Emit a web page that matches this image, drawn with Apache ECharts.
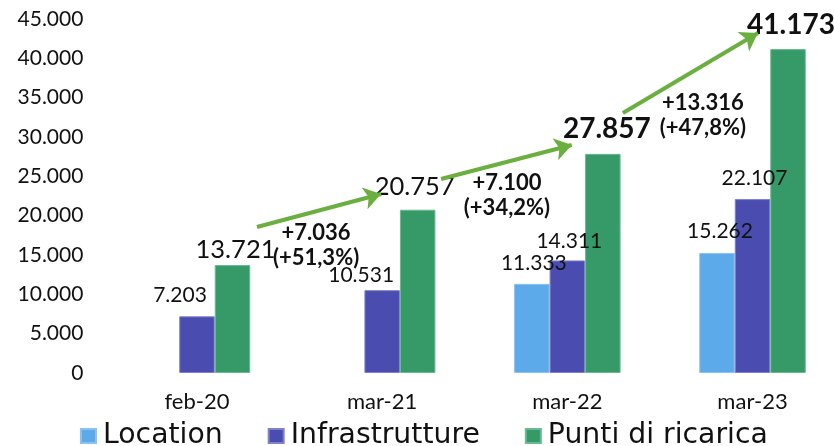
<!DOCTYPE html>
<html>
<head>
<meta charset="utf-8">
<script src="https://cdn.jsdelivr.net/npm/echarts@6/dist/echarts.min.js"></script>
<style>
html,body{margin:0;padding:0;background:#fff;}
#c{width:834px;height:446px;}
</style>
</head>
<body>
<div id="c"></div>
<script>
// ---- data ----
const categories = ['feb-20', 'mar-21', 'mar-22', 'mar-23'];
const seriesNames = ['Location', 'Infrastrutture', 'Punti di ricarica'];
const locationValues = [null, null, 11333, 15262];
const infraValues = [7203, 10531, 14311, 22107];
const puntiValues = [13721, 20757, 27857, 41173];
const yTicks = [0, 5000, 10000, 15000, 20000, 25000, 30000, 35000, 40000, 45000];
// growth annotations (text)
const growthTexts = [['+7.036', '(+51,3%)'], ['+7.100', '(+34,2%)'], ['+13.316', '(+47,8%)']];
// arrow annotations in data space [x (category units), y value]
const arrowFrom = [[0.824, 18560], [1.818, 24660], [2.800, 33050]];
const arrowTo = [[1.494, 22750], [2.524, 28980], [3.529, 43220]];
const growthAnchor = [[1.143, 16200], [2.174, 22580], [3.232, 32800]];

const fmt = v => String(v).replace(/\B(?=(\d{3})+(?!\d))/g, '.');

const FONT = 'Lato';
const colors = ['#5DAAEA', '#4A4CB0', '#359A68'];
const borders = ['#8cc2f0', '#7e80cc', '#6cb892'];

// per-bar label styles
const smallLbl = {fontSize: 21, fontWeight: 'normal'};
const bigLbl = {fontSize: 25.5, fontWeight: 'normal'};
const boldLbl = {fontSize: 28, fontWeight: 'bold'};
const locLabelStyle = [null, null, {...smallLbl, offset: [2, -5]}, {...smallLbl, offset: [3, -6]}];
const infraLabelStyle = [{...smallLbl, offset: [-17, -6]}, {...smallLbl, offset: [-21, 1]}, {...smallLbl, offset: [2, -4]}, {...smallLbl, offset: [2, -5]}];
const puntiLabelStyle = [{...bigLbl, offset: [3, 3]}, {...bigLbl, offset: [-3, -5]}, {...boldLbl, offset: [4, -6]}, {...boldLbl, offset: [3, -5]}];

function barData(vals, styles) {
  return vals.map((v, i) => v == null ? null : ({
    value: v,
    label: Object.assign({show: true, position: 'top', distance: 5, color: '#111', fontFamily: FONT,
      formatter: p => fmt(p.value)}, styles[i])
  }));
}

function barSeries(idx, vals, styles) {
  return {
    name: seriesNames[idx], type: 'bar', xAxisIndex: 0, yAxisIndex: 0,
    barWidth: 35.5, barGap: '0%', clip: false,
    itemStyle: {color: colors[idx], borderColor: borders[idx], borderWidth: 1},
    data: barData(vals, styles),
    emphasis: {disabled: true},
    z: 2
  };
}

const chart = echarts.init(document.getElementById('c'), null, {renderer: 'canvas'});
chart.setOption({
  animation: false,
  backgroundColor: '#fff',
  grid: {left: 104.4, width: 740.7, top: 19, bottom: 73, containLabel: false, outerBoundsMode: 'none'},
  legend: {
    data: seriesNames, top: 422, left: 80, padding: 0,
    itemWidth: 15, itemHeight: 14, itemGap: 45,
    icon: 'rect',
    textStyle: {fontFamily: 'DejaVu Sans', fontSize: 28.3, color: '#111', padding: [0, 0, 0, 2]},
  },
  xAxis: [{
    type: 'category', data: categories,
    axisLine: {show: false}, axisTick: {show: false},
    axisLabel: {fontFamily: FONT, fontSize: 22, color: '#111', margin: 18}
  }, {
    type: 'value', min: 0, max: 4, show: false
  }],
  yAxis: {
    type: 'value', min: yTicks[0], max: yTicks[yTicks.length - 1], interval: yTicks[1] - yTicks[0],
    axisLine: {show: false}, axisTick: {show: false}, splitLine: {show: false},
    axisLabel: {fontFamily: FONT, fontSize: 21, color: '#111', margin: 21, formatter: v => fmt(v)}
  },
  series: [
    barSeries(0, locationValues, locLabelStyle),
    barSeries(1, infraValues, infraLabelStyle),
    barSeries(2, puntiValues, puntiLabelStyle),
    {
      type: 'lines', coordinateSystem: 'cartesian2d', xAxisIndex: 1, yAxisIndex: 0,
      symbol: ['none', 'arrow'], symbolSize: [0, 17],
      lineStyle: {color: '#6AAF3F', width: 4, opacity: 1, curveness: 0},
      data: arrowFrom.map((f, i) => ({coords: [f, arrowTo[i]]})),
      z: 5, silent: true
    }
  ]
});

// growth text annotations placed through the hidden value axis
const texts = growthAnchor.map((a, i) => {
  const p = chart.convertToPixel({xAxisIndex: 1, yAxisIndex: 0}, a);
  return {
    type: 'text', x: p[0], y: p[1], z: 10, silent: true,
    style: {
      text: growthTexts[i].join('\n'),
      font: 'bold 22px Lato', fill: '#111',
      align: 'center', verticalAlign: 'middle', lineHeight: 25
    }
  };
});
chart.setOption({graphic: texts});
</script>
</body>
</html>
